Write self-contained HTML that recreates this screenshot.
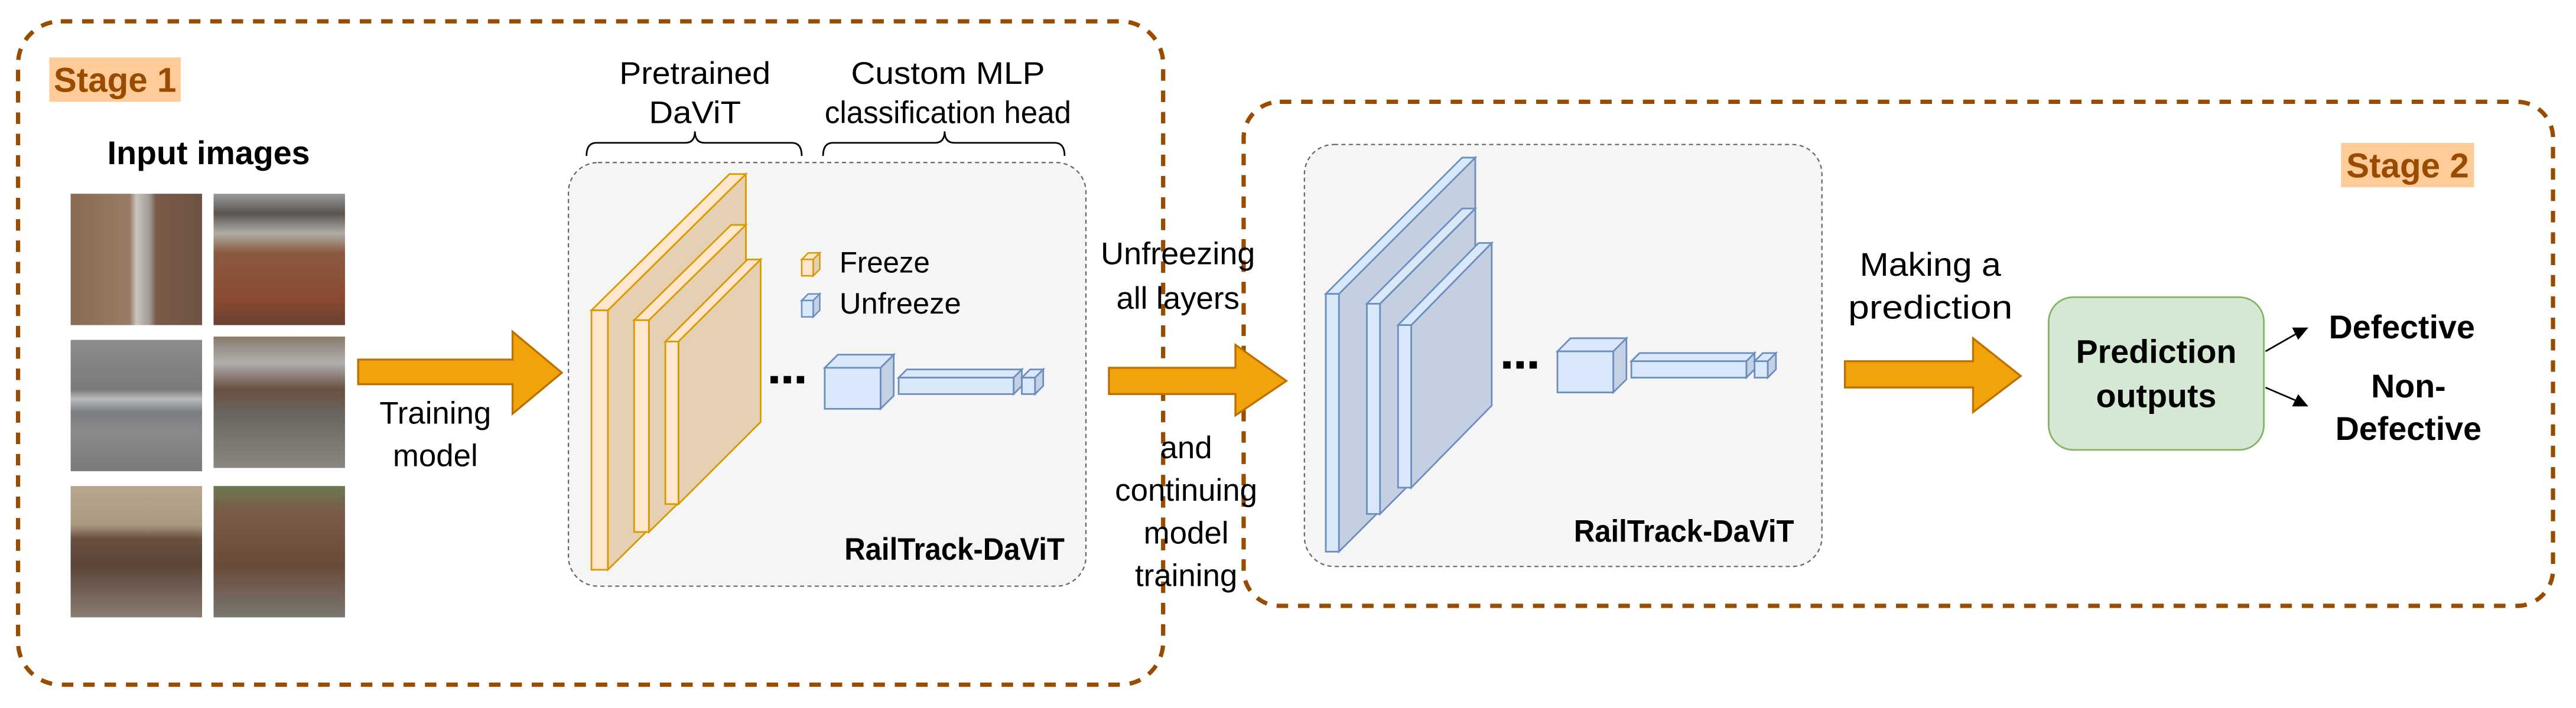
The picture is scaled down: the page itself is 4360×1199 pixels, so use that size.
<!DOCTYPE html>
<html><head><meta charset="utf-8"><style>
html,body{margin:0;padding:0;background:#fff;}
svg{display:block;}
text{font-family:"Liberation Sans",Arial,sans-serif;}
</style></head><body>
<svg width="4360" height="1199" viewBox="0 0 1568 431.2" preserveAspectRatio="none" xmlns="http://www.w3.org/2000/svg">
<defs>
<linearGradient id="g1" x1="0" y1="0" x2="1" y2="0"><stop offset="0" stop-color="#8a6a50"/><stop offset="0.45" stop-color="#9a7c66"/><stop offset="0.5" stop-color="#c8c4c0"/><stop offset="0.6" stop-color="#a09a94"/><stop offset="0.65" stop-color="#7a5a48"/><stop offset="1" stop-color="#6e5444"/></linearGradient>
<linearGradient id="g2" x1="0" y1="0" x2="0" y2="1"><stop offset="0" stop-color="#9a9a9a"/><stop offset="0.15" stop-color="#5a5450"/><stop offset="0.3" stop-color="#b0aca8"/><stop offset="0.45" stop-color="#8a5a40"/><stop offset="0.8" stop-color="#8a4a30"/><stop offset="1" stop-color="#6a4030"/></linearGradient>
<linearGradient id="g3" x1="0" y1="0" x2="0" y2="1"><stop offset="0" stop-color="#8c8c8c"/><stop offset="0.38" stop-color="#7a7a7a"/><stop offset="0.45" stop-color="#b8bcc0"/><stop offset="0.55" stop-color="#7a7c80"/><stop offset="0.7" stop-color="#8a8a8a"/><stop offset="1" stop-color="#7a7a78"/></linearGradient>
<linearGradient id="g4" x1="0" y1="0" x2="0" y2="1"><stop offset="0" stop-color="#8a7a6a"/><stop offset="0.2" stop-color="#b0b0b0"/><stop offset="0.4" stop-color="#6a5040"/><stop offset="0.6" stop-color="#6a6660"/><stop offset="1" stop-color="#8a8680"/></linearGradient>
<linearGradient id="g5" x1="0" y1="0" x2="0" y2="1"><stop offset="0" stop-color="#b8a890"/><stop offset="0.3" stop-color="#a89880"/><stop offset="0.4" stop-color="#6a5040"/><stop offset="0.6" stop-color="#5a4438"/><stop offset="1" stop-color="#8a7c70"/></linearGradient>
<linearGradient id="g6" x1="0" y1="0" x2="0" y2="1"><stop offset="0" stop-color="#6a7a50"/><stop offset="0.2" stop-color="#7a5a48"/><stop offset="0.6" stop-color="#6a4a38"/><stop offset="1" stop-color="#7a7670"/></linearGradient>
</defs>

<rect x="11" y="13" width="697" height="404" rx="26" fill="none" stroke="#994c00" stroke-width="2.6" stroke-dasharray="7,6"/>
<rect x="757" y="62" width="797" height="307" rx="22" fill="none" stroke="#994c00" stroke-width="2.6" stroke-dasharray="7,6"/>

<rect x="30" y="35" width="80" height="27" fill="#ffcc99"/>
<text x="70" y="56" font-size="21" font-weight="bold" fill="#994c00" text-anchor="middle">Stage 1</text>
<rect x="1425" y="87" width="81" height="27" fill="#ffcc99"/>
<text x="1465.5" y="108" font-size="21" font-weight="bold" fill="#994c00" text-anchor="middle">Stage 2</text>

<text x="127" y="100" font-size="20" font-weight="bold" text-anchor="middle">Input images</text>

<rect x="43" y="118" width="80" height="80" fill="url(#g1)"/>
<rect x="130" y="118" width="80" height="80" fill="url(#g2)"/>
<rect x="43" y="207" width="80" height="80" fill="url(#g3)"/>
<rect x="130" y="205" width="80" height="80" fill="url(#g4)"/>
<rect x="43" y="296" width="80" height="80" fill="url(#g5)"/>
<rect x="130" y="296" width="80" height="80" fill="url(#g6)"/>

<polygon points="218,219 312,219 312,202 342,227 312,252 312,234 218,234" fill="#f0a30a" stroke="#bd7000" stroke-width="1.2"/>
<text x="265" y="258" font-size="19" text-anchor="middle">Training</text>
<text x="265" y="284" font-size="19" text-anchor="middle">model</text>

<rect x="346" y="99" width="315" height="258" rx="18" fill="#f5f5f5" stroke="#666" stroke-width="0.8" stroke-dasharray="2.5,2"/>

<text x="423" y="51" font-size="19" text-anchor="middle" textLength="92" lengthAdjust="spacingAndGlyphs">Pretrained</text>
<text x="423" y="75" font-size="19" text-anchor="middle" textLength="56" lengthAdjust="spacingAndGlyphs">DaViT</text>
<text x="577" y="51" font-size="19" text-anchor="middle" textLength="118" lengthAdjust="spacingAndGlyphs">Custom MLP</text>
<text x="577" y="75" font-size="19" text-anchor="middle" textLength="150" lengthAdjust="spacingAndGlyphs">classification head</text>
<path d="M357,95 Q357,87 363,87 L417,87 Q423,87 423,80 Q423,87 429,87 L482,87 Q488,87 488,95" fill="none" stroke="#000" stroke-width="1"/>
<path d="M501,95 Q501,87 507,87 L569,87 Q575,87 575,80 Q575,87 581,87 L642,87 Q648,87 648,95" fill="none" stroke="#000" stroke-width="1"/>

<g fill="#e6d0b3" stroke="#d79b00" stroke-width="1">
<polygon points="370,189 454,106 454,264 370,347"/>
<polygon points="360,189 444,106 454,106 370,189" fill="#ffe6cc"/>
<rect x="360" y="189" width="10" height="158" fill="#ffe6cc"/>
<polygon points="395,195 454,137 454,266 395,324"/>
<polygon points="386,195 445,137 454,137 395,195" fill="#ffe6cc"/>
<rect x="386" y="195" width="9" height="129" fill="#ffe6cc"/>
<polygon points="413,208 463,158 463,257 413,307"/>
<polygon points="405,208 455,158 463,158 413,208" fill="#ffe6cc"/>
<rect x="405" y="208" width="8" height="99" fill="#ffe6cc"/>
</g>

<g stroke-width="0.9">
<polygon points="488,158 492,154 499,154 495,158" fill="#ffe6cc" stroke="#d79b00"/>
<polygon points="495,158 499,154 499,164 495,168" fill="#e6d0b3" stroke="#d79b00"/>
<rect x="488" y="158" width="7" height="10" fill="#ffe6cc" stroke="#d79b00"/>
<polygon points="488,183 492,179 499,179 495,183" fill="#dae8fc" stroke="#6c8ebf"/>
<polygon points="495,183 499,179 499,189 495,193" fill="#c4d0e3" stroke="#6c8ebf"/>
<rect x="488" y="183" width="7" height="10" fill="#dae8fc" stroke="#6c8ebf"/>
</g>
<text x="511" y="166" font-size="18" textLength="55" lengthAdjust="spacingAndGlyphs">Freeze</text>
<text x="511" y="191" font-size="18" textLength="74" lengthAdjust="spacingAndGlyphs">Unfreeze</text>

<g fill="#000"><rect x="469" y="229" width="4.5" height="4.5"/><rect x="477" y="229" width="4.5" height="4.5"/><rect x="485" y="229" width="4.5" height="4.5"/></g>
<g fill="#dae8fc" stroke="#6c8ebf" stroke-width="1">
<polygon points="502,224 510,216 544,216 536,224"/>
<polygon points="536,224 544,216 544,241 536,249" fill="#c4d0e3"/>
<rect x="502" y="224" width="34" height="25"/>
<polygon points="547,230 552,225 622,225 617,230"/>
<polygon points="617,230 622,225 622,235 617,240" fill="#c4d0e3"/>
<rect x="547" y="230" width="70" height="10"/>
<polygon points="622,230 627,225 635,225 630,230"/>
<polygon points="630,230 635,225 635,235 630,240" fill="#c4d0e3"/>
<rect x="622" y="230" width="8" height="10"/>
</g>
<text x="648" y="341" font-size="19" font-weight="bold" text-anchor="end" textLength="134" lengthAdjust="spacingAndGlyphs">RailTrack-DaViT</text>

<polygon points="675,224 752,224 752,210 783,232 752,253 752,240 675,240" fill="#f0a30a" stroke="#bd7000" stroke-width="1.2"/>
<text x="717" y="161" font-size="19" text-anchor="middle" textLength="94" lengthAdjust="spacingAndGlyphs">Unfreezing</text>
<text x="717" y="188" font-size="19" text-anchor="middle">all layers</text>
<text x="722" y="279" font-size="19" text-anchor="middle">and</text>
<text x="722" y="305" font-size="19" text-anchor="middle">continuing</text>
<text x="722" y="331" font-size="19" text-anchor="middle">model</text>
<text x="722" y="357" font-size="19" text-anchor="middle">training</text>

<rect x="794" y="88" width="315" height="257" rx="18" fill="#f5f5f5" stroke="#666" stroke-width="0.8" stroke-dasharray="2.5,2"/>
<g fill="#c4cfe2" stroke="#6c8ebf" stroke-width="1">
<polygon points="815,179 898,96 898,253 815,336"/>
<polygon points="807,179 890,96 898,96 815,179" fill="#dae8fc"/>
<rect x="807" y="179" width="8" height="157" fill="#dae8fc"/>
<polygon points="840,185 898,127 898,255 840,313"/>
<polygon points="832,185 890,127 898,127 840,185" fill="#dae8fc"/>
<rect x="832" y="185" width="8" height="128" fill="#dae8fc"/>
<polygon points="859,198 908,148 908,247 859,297"/>
<polygon points="851,198 900,148 908,148 859,198" fill="#dae8fc"/>
<rect x="851" y="198" width="8" height="99" fill="#dae8fc"/>
</g>
<g fill="#000"><rect x="915" y="220" width="4.5" height="4.5"/><rect x="923" y="220" width="4.5" height="4.5"/><rect x="931" y="220" width="4.5" height="4.5"/></g>
<g fill="#dae8fc" stroke="#6c8ebf" stroke-width="1">
<polygon points="948,214 956,206 990,206 982,214"/>
<polygon points="982,214 990,206 990,231 982,239" fill="#c4d0e3"/>
<rect x="948" y="214" width="34" height="25"/>
<polygon points="993,220 998,215 1068,215 1063,220"/>
<polygon points="1063,220 1068,215 1068,225 1063,230" fill="#c4d0e3"/>
<rect x="993" y="220" width="70" height="10"/>
<polygon points="1068,220 1073,215 1081,215 1076,220"/>
<polygon points="1076,220 1081,215 1081,225 1076,230" fill="#c4d0e3"/>
<rect x="1068" y="220" width="8" height="10"/>
</g>
<text x="1092" y="330" font-size="19" font-weight="bold" text-anchor="end" textLength="134" lengthAdjust="spacingAndGlyphs">RailTrack-DaViT</text>

<polygon points="1123,220 1201,220 1201,206 1230,229 1201,251 1201,236 1123,236" fill="#f0a30a" stroke="#bd7000" stroke-width="1.2"/>
<text x="1175" y="168" font-size="20" text-anchor="middle" textLength="86" lengthAdjust="spacingAndGlyphs">Making a</text>
<text x="1175" y="194" font-size="20" text-anchor="middle" textLength="100" lengthAdjust="spacingAndGlyphs">prediction</text>

<rect x="1247" y="181" width="131" height="93" rx="15" fill="#d5e8d4" stroke="#82b366" stroke-width="1"/>
<text x="1312.5" y="221" font-size="20" font-weight="bold" text-anchor="middle">Prediction</text>
<text x="1312.5" y="248" font-size="20" font-weight="bold" text-anchor="middle">outputs</text>

<g stroke="#000" stroke-width="1" fill="#000">
<line x1="1379" y1="214" x2="1400" y2="202"/>
<polygon points="1404,200 1396,200 1399,206"/>
<line x1="1379" y1="236" x2="1400" y2="245"/>
<polygon points="1404,247 1396,247 1399,241"/>
</g>
<text x="1462" y="206" font-size="20" font-weight="bold" text-anchor="middle">Defective</text>
<text x="1466" y="242" font-size="20" font-weight="bold" text-anchor="middle">Non-</text>
<text x="1466" y="268" font-size="20" font-weight="bold" text-anchor="middle">Defective</text>
</svg>
</body></html>
